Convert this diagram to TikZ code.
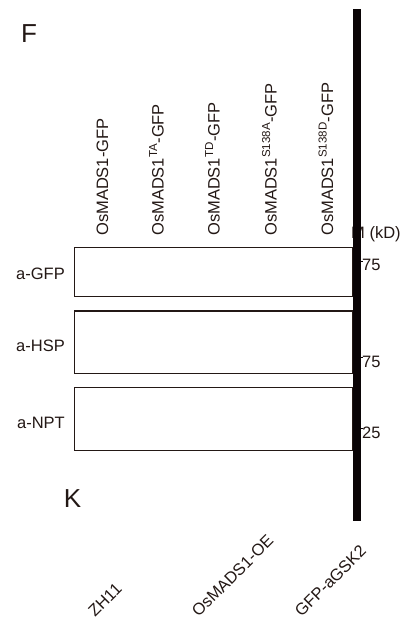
\documentclass[tikz,border=0pt]{standalone}
\usepackage{fontspec}
\setmainfont{Liberation Sans}
\definecolor{ink}{HTML}{231815}
\definecolor{barc}{HTML}{0A0406}
\begin{document}
\begin{tikzpicture}[x=1pt,y=1pt,
  lbl/.style={inner sep=0pt,text=ink,font=\fontsize{16.5}{19}\selectfont},
  big/.style={inner sep=0pt,text=ink,font=\fontsize{26}{30}\selectfont},
  blot/.style={draw=ink,line width=1.2pt,fill=white},
  tick/.style={draw=barc,line width=1pt}]
\useasboundingbox (0,0) rectangle (405,617);
\clip (0,0) rectangle (405,617);
% panel letters
\node[big] (F) at (29,583) {F};
\node[big] (K) at (72.5,118) {K};
% lane labels
\node[lbl,rotate=90,anchor=base west] (l1) at (108,381) {OsMADS1-GFP};
\node[lbl,rotate=90,anchor=base west] (l2) at (163.5,381) {OsMADS1\textsuperscript{TA}-GFP};
\node[lbl,rotate=90,anchor=base west] (l3) at (219.5,381) {OsMADS1\textsuperscript{TD}-GFP};
\node[lbl,rotate=90,anchor=base west] (l4) at (276.5,381) {OsMADS1\textsuperscript{S138A}-GFP};
\node[lbl,rotate=90,anchor=base west] (l5) at (333,381) {OsMADS1\textsuperscript{S138D}-GFP};
% marker header (partly hidden by bar)
\node[lbl,anchor=base west] (mk) at (351,378.3) {M (kD)};
% blots
\draw[blot] (74.7,369.7) rectangle (352.5,320.3);
\draw[blot] (74.7,306) rectangle (352.5,243.7);
\draw[blot] (74.7,229.7) rectangle (352.5,166.3);
% antibody labels
\node[lbl,anchor=east] (gfp) at (65,343) {a-GFP};
\node[lbl,anchor=east] (hsp) at (65,271) {a-HSP};
\node[lbl,anchor=east] (npt) at (65,194) {a-NPT};
% black bar
\fill[barc] (352.5,96) rectangle (360.5,607.7);
% marker ticks and sizes
\node[lbl,anchor=west] (m1) at (362,352) {75};
\node[lbl,anchor=west] (m2) at (362,255.3) {75};
\node[lbl,anchor=west] (m3) at (362,184.3) {25};
\draw[tick] (360.5,355.5) -- (362.5,355.5);
\draw[tick] (360.5,259.5) -- (362.5,259.5);
\draw[tick] (360.5,188.5) -- (362.5,188.5);
% bottom labels
\node[lbl,rotate=45,anchor=base west] (b1) at (95,-1) {ZH11};
\node[lbl,rotate=45,anchor=base west] (b2) at (198.5,-1) {OsMADS1-OE};
\node[lbl,rotate=45,anchor=base west] (b3) at (301.5,-1) {GFP-aGSK2};
\end{tikzpicture}
\end{document}
